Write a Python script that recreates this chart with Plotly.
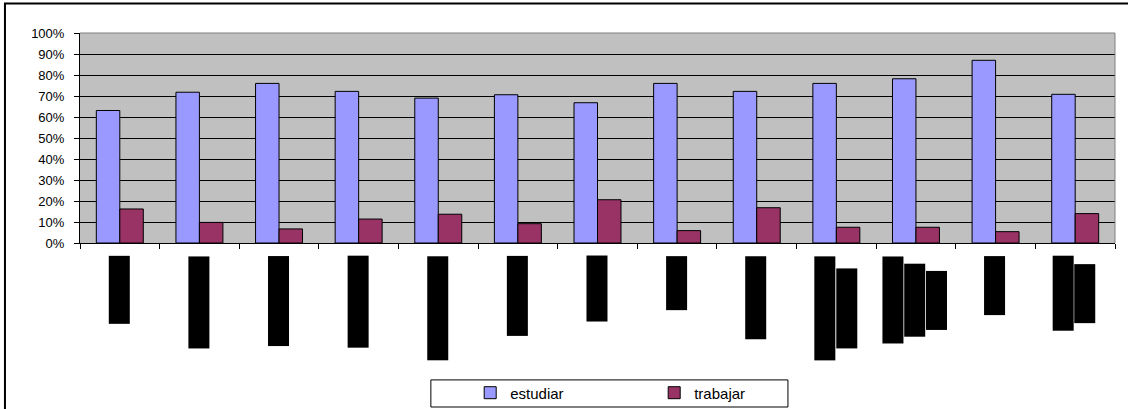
import plotly.graph_objects as go

# Categories (13 groups; their names are shown as blacked-out text blocks)
categorias = [f"c{i}" for i in range(1, 14)]

# Share of respondents per category (percent)
estudiar = [63.1, 71.8, 76.0, 72.2, 69.0, 70.6, 66.8, 76.0, 72.2, 76.0, 78.2, 87.0, 70.8]
trabajar = [16.2, 9.8, 6.7, 11.4, 13.7, 9.2, 20.6, 5.9, 16.8, 7.5, 7.5, 5.4, 14.0]

# Redacted category labels: number of hidden characters on each text line
etiqueta_lineas = [
    [21], [31], [30], [31], [36], [26], [20], [15], [27],
    [36, 26], [29, 23, 17], [17], [24, 17],
]

y_ticks = list(range(0, 101, 10))
y_tick_text = [f"{v}%" for v in y_ticks]

# Styling of the redacted label bars
RED_FONT = dict(family="DejaVu Sans Mono", size=4, color="#000000")
RED_ADV = 0.602 * RED_FONT["size"]   # advance of one monospace cell, px
RED_PAD = 8                           # padding around hidden text, px
RED_COL = 22                          # spacing between text lines, px

fig = go.Figure()
fig.add_trace(go.Bar(
    x=categorias, y=estudiar, name="estudiar",
    marker=dict(color="#9999FF", line=dict(color="#000000", width=1)),
))
fig.add_trace(go.Bar(
    x=categorias, y=trabajar, name="trabajar",
    marker=dict(color="#993366", line=dict(color="#000000", width=1)),
))

# Each label line is drawn as blacked-out, rotated text, lines centred on each other
for cat, lineas in zip(categorias, etiqueta_lineas):
    n_lin = len(lineas)
    for k, n in enumerate(lineas):
        fig.add_annotation(
            x=cat, xref="x", y=-0.062, yref="paper",
            text="\u2588" * n,
            textangle=-90, xanchor="center", yanchor="top",
            xshift=(k - (n_lin - 1) / 2) * RED_COL - 1,
            yshift=-(lineas[0] - n) * RED_ADV / 2,
            showarrow=False, bgcolor="#000000",
            borderpad=RED_PAD, borderwidth=0,
            font=RED_FONT,
        )

# Plot-area frame: grey on top and right
fig.add_shape(type="line", xref="x domain", yref="y domain", x0=0, x1=1, y0=1, y1=1,
              line=dict(color="#808080", width=1), layer="above")
fig.add_shape(type="line", xref="x domain", yref="y domain", x0=1, x1=1, y0=0, y1=1,
              line=dict(color="#808080", width=1), layer="above")
# Legend frame
fig.add_shape(type="rect", xref="paper", yref="paper", x0=0.339, x1=0.684, y0=-0.781, y1=-0.652,
              line=dict(color="#000000", width=1), fillcolor="rgba(0,0,0,0)")
# Outer chart frame
fig.add_shape(type="rect", xref="paper", yref="paper", x0=-0.0725, x1=1.2, y0=-1.2, y1=1.141,
              line=dict(color="#000000", width=2), fillcolor="rgba(0,0,0,0)")

fig.update_layout(
    width=1128, height=409,
    margin=dict(l=80, r=13, t=33, b=166, autoexpand=False),
    paper_bgcolor="#FFFFFF", plot_bgcolor="#C0C0C0",
    barmode="group", bargap=0.41, bargroupgap=0,
    font=dict(family="Liberation Sans, Arial", size=12, color="#000000"),
    showlegend=True,
    legend=dict(
        orientation="h", x=0.377, xanchor="left", y=-0.714, yanchor="middle",
        bgcolor="rgba(0,0,0,0)", borderwidth=0,
        entrywidth=139, entrywidthmode="pixels",
        font=dict(family="Liberation Sans, Arial", size=15, color="#000000"),
    ),
    xaxis=dict(
        type="category", showticklabels=False, tickson="boundaries",
        ticks="outside", ticklen=5, tickcolor="#000000",
        showline=True, linecolor="#000000", linewidth=1,
        showgrid=False, zeroline=False,
    ),
    yaxis=dict(
        range=[0, 100], tickvals=y_ticks, ticktext=y_tick_text,
        ticks="outside", ticklen=5, tickcolor="#000000", ticklabelstandoff=7,
        showline=True, linecolor="#000000", linewidth=1,
        showgrid=True, gridcolor="#000000", gridwidth=1, zeroline=False,
        tickfont=dict(family="Liberation Sans, Arial", size=13, color="#000000"),
    ),
)

fig.write_html("out.html")
